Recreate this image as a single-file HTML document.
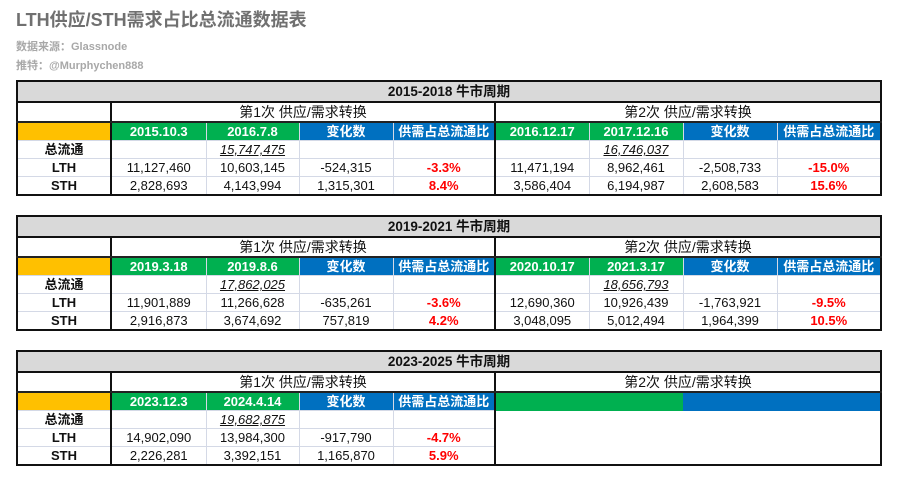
<!DOCTYPE html>
<html><head><meta charset="utf-8"><style>
body{margin:0;width:900px;height:481px;background:#fff;font-family:"Liberation Sans","Noto Sans CJK SC",sans-serif;position:relative;overflow:hidden}
.h1{position:absolute;left:16px;top:6px;font-size:18px;font-weight:bold;color:#707070}
.s{position:absolute;left:16px;font-size:11px;font-weight:bold;color:#a8a8a8}
table{position:absolute;left:16px;width:864px;border-collapse:collapse;table-layout:fixed;border:2px solid #111}
td{padding:0;text-align:center;font-size:13px;color:#111;border:1px solid #d4d9e6;white-space:nowrap;overflow:hidden;line-height:15px}
tr.t td{background:#d9d9d9;font-weight:bold;font-size:13.5px;height:19px;border-bottom:2px solid #111}
tr.sec td{height:18px;font-size:14px;border-bottom:2px solid #222}
tr.c td{height:17px;color:#fff;font-weight:bold;font-size:13px}
tr.d td{height:17px}
.L{border-right:2px solid #111!important}
.g{background:#00b050}.b{background:#0070c0}.y{background:#ffc000}
.r{color:#f00!important;font-weight:bold}
.bold{font-weight:bold}
.u{font-style:italic;text-decoration:underline}
</style></head><body>
<div class="h1">LTH供应/STH需求占比总流通数据表</div>
<div class="s" style="top:38px">数据来源：Glassnode</div>
<div class="s" style="top:57px">推特：@Murphychen888</div>

<table style="top:80px"><colgroup><col style="width:94px"><col style="width:95px"><col style="width:93px"><col style="width:94px"><col style="width:102px"><col style="width:94px"><col style="width:94px"><col style="width:94px"><col style="width:104px"></colgroup>
<tr class="t"><td colspan="9">2015-2018 牛市周期</td></tr>
<tr class="sec"><td class="L"></td><td colspan="4" class="L">第1次 供应/需求转换</td><td colspan="4">第2次 供应/需求转换</td></tr>
<tr class="c"><td class="y L"></td><td class="g">2015.10.3</td><td class="g">2016.7.8</td><td class="b">变化数</td><td class="b L">供需占总流通比</td><td class="g">2016.12.17</td><td class="g">2017.12.16</td><td class="b">变化数</td><td class="b">供需占总流通比</td></tr>
<tr class="d"><td class="L bold">总流通</td><td></td><td class="u">15,747,475</td><td></td><td class="L"></td><td></td><td class="u">16,746,037</td><td></td><td></td></tr>
<tr class="d"><td class="L bold">LTH</td><td>11,127,460</td><td>10,603,145</td><td>-524,315</td><td class="L r">-3.3%</td><td>11,471,194</td><td>8,962,461</td><td>-2,508,733</td><td class="r">-15.0%</td></tr>
<tr class="d"><td class="L bold">STH</td><td>2,828,693</td><td>4,143,994</td><td>1,315,301</td><td class="L r">8.4%</td><td>3,586,404</td><td>6,194,987</td><td>2,608,583</td><td class="r">15.6%</td></tr>
</table>

<table style="top:215px"><colgroup><col style="width:94px"><col style="width:95px"><col style="width:93px"><col style="width:94px"><col style="width:102px"><col style="width:94px"><col style="width:94px"><col style="width:94px"><col style="width:104px"></colgroup>
<tr class="t"><td colspan="9">2019-2021 牛市周期</td></tr>
<tr class="sec"><td class="L"></td><td colspan="4" class="L">第1次 供应/需求转换</td><td colspan="4">第2次 供应/需求转换</td></tr>
<tr class="c"><td class="y L"></td><td class="g">2019.3.18</td><td class="g">2019.8.6</td><td class="b">变化数</td><td class="b L">供需占总流通比</td><td class="g">2020.10.17</td><td class="g">2021.3.17</td><td class="b">变化数</td><td class="b">供需占总流通比</td></tr>
<tr class="d"><td class="L bold">总流通</td><td></td><td class="u">17,862,025</td><td></td><td class="L"></td><td></td><td class="u">18,656,793</td><td></td><td></td></tr>
<tr class="d"><td class="L bold">LTH</td><td>11,901,889</td><td>11,266,628</td><td>-635,261</td><td class="L r">-3.6%</td><td>12,690,360</td><td>10,926,439</td><td>-1,763,921</td><td class="r">-9.5%</td></tr>
<tr class="d"><td class="L bold">STH</td><td>2,916,873</td><td>3,674,692</td><td>757,819</td><td class="L r">4.2%</td><td>3,048,095</td><td>5,012,494</td><td>1,964,399</td><td class="r">10.5%</td></tr>
</table>

<table style="top:350px"><colgroup><col style="width:94px"><col style="width:95px"><col style="width:93px"><col style="width:94px"><col style="width:102px"><col style="width:94px"><col style="width:94px"><col style="width:94px"><col style="width:104px"></colgroup>
<tr class="t"><td colspan="9">2023-2025 牛市周期</td></tr>
<tr class="sec"><td class="L"></td><td colspan="4" class="L">第1次 供应/需求转换</td><td colspan="4">第2次 供应/需求转换</td></tr>
<tr class="c"><td class="y L"></td><td class="g">2023.12.3</td><td class="g">2024.4.14</td><td class="b">变化数</td><td class="b L">供需占总流通比</td><td class="g" colspan="2" style="border:none"></td><td class="b" colspan="2" style="border:none"></td></tr>
<tr class="d"><td class="L bold">总流通</td><td></td><td class="u">19,682,875</td><td></td><td class="L"></td><td colspan="4" rowspan="3" style="border:none"></td></tr>
<tr class="d"><td class="L bold">LTH</td><td>14,902,090</td><td>13,984,300</td><td>-917,790</td><td class="L r">-4.7%</td></tr>
<tr class="d"><td class="L bold">STH</td><td>2,226,281</td><td>3,392,151</td><td>1,165,870</td><td class="L r">5.9%</td></tr>
</table>
</body></html>
